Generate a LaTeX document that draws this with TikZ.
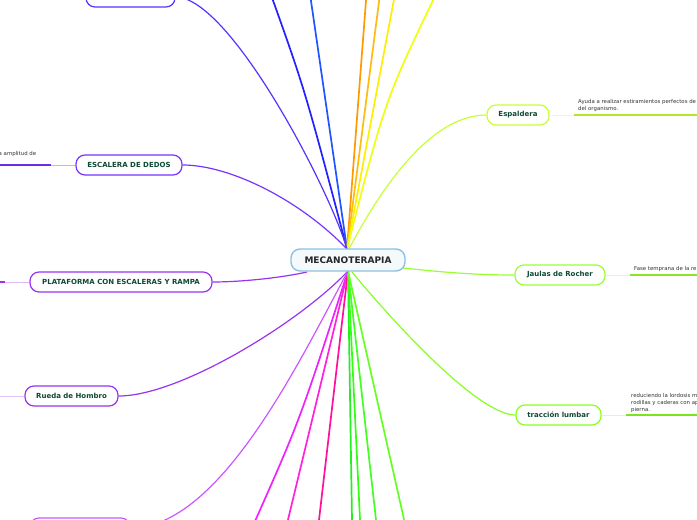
\documentclass[tikz,border=0pt]{standalone}
\usepackage{fontspec}
\setmainfont{DejaVu Sans}
\begin{document}
\begin{tikzpicture}[x=1pt,y=-1pt,
  box/.style={draw, rounded corners=9pt, fill=white, line width=1.2pt, minimum height=20pt, inner sep=0pt,
    font=\fontsize{7}{8}\selectfont\bfseries, text=txtgreen},
  conn/.style={line width=1.7pt},
  desc/.style={anchor=north west, inner sep=0pt, align=left, text=desctxt, font=\fontsize{5.4}{7}\selectfont},
]
\definecolor{txtgreen}{HTML}{0E4A33}
\definecolor{desctxt}{HTML}{333333}
\definecolor{cbord}{HTML}{8EC0E0}
\definecolor{cfill}{HTML}{F4F9FC}
\definecolor{vblue}{HTML}{5533FF}
\definecolor{blueA}{HTML}{2222FF}
\definecolor{blueB}{HTML}{2255FF}
\definecolor{orA}{HTML}{FF9900}
\definecolor{orB}{HTML}{FFBB11}
\definecolor{yeA}{HTML}{FFEE00}
\definecolor{yeB}{HTML}{EEFF11}
\definecolor{espc}{HTML}{C8FF33}
\definecolor{jauc}{HTML}{99FF33}
\definecolor{trac}{HTML}{88FF22}
\definecolor{escc}{HTML}{7733FF}
\definecolor{platc}{HTML}{9933EE}
\definecolor{ruec}{HTML}{9933EE}
\definecolor{blc}{HTML}{CC55FF}
\definecolor{magA}{HTML}{EE22FF}
\definecolor{magB}{HTML}{FF22DD}
\definecolor{pinkc}{HTML}{FF1199}
\definecolor{grA}{HTML}{22EE22}
\definecolor{grB}{HTML}{33FF11}
\definecolor{grC}{HTML}{44FF22}
\definecolor{grD}{HTML}{66FF22}
\useasboundingbox (0,0) rectangle (697,520);
\clip (0,0) rectangle (697,520);

% hubs
\coordinate (ht) at (347,249);
\coordinate (hb) at (348,271);

% free ends beyond the edges
\coordinate (eB1) at (270,-8);
\coordinate (eB2) at (310,-6);
\coordinate (eO1) at (366.5,-6);
\coordinate (eO2) at (380,-6);
\coordinate (eY1) at (395,-6);
\coordinate (eY2) at (437,-8);
\coordinate (eM1) at (252,528);
\coordinate (eM2) at (286.5,526);
\coordinate (eP) at (318.3,526);
\coordinate (eG1) at (352.1,526);
\coordinate (eG2) at (360.3,526);
\coordinate (eG3) at (376.7,526);
\coordinate (eG4) at (405.5,526);

% connectors (drawn first, behind nodes)
\draw[conn, blueA] (ht) .. controls (305,90) .. (eB1);
\draw[conn, blueB] (ht) -- (eB2);
\draw[conn, orA] (ht) -- (eO1);
\draw[conn, orB] (ht) -- (eO2);
\draw[conn, yeA] (ht) -- (eY1);
\draw[conn, yeB] (ht) .. controls (385,100) .. (eY2);
\draw[conn, magA] (hb) .. controls (300,420) .. (eM1);
\draw[conn, magB] (hb) -- (eM2);
\draw[conn, pinkc] (hb) -- (eP);
\draw[conn, grA] (hb) -- (eG1);
\draw[conn, grB] (hb) -- (eG2);
\draw[conn, grC] (hb) -- (eG3);
\draw[conn, grD] (hb) -- (eG4);

% child nodes
\node[box, draw=vblue, minimum width=89pt] (tl) at (130.5,-3) {};
\node[box, draw=escc, minimum width=106pt] (esc) at (129,165) {ESCALERA DE DEDOS};
\node[box, draw=platc, minimum width=182pt] (plat) at (121,282) {PLATAFORMA CON ESCALERAS Y RAMPA};
\node[box, draw=ruec, minimum width=93pt] (rue) at (71.5,396) {Rueda de Hombro};
\node[box, draw=blc, minimum width=100pt] (bl) at (80,528) {};
\node[box, draw=espc, minimum width=62pt] (esp) at (518,115) {Espaldera};
\node[box, draw=jauc, minimum width=90pt] (jau) at (560,275) {Jaulas de Rocher};
\node[box, draw=trac, minimum width=85pt] (tra) at (558.5,415) {tracción lumbar};

% curved connectors to children
\draw[line width=1.2pt, vblue] (ht) .. controls (330,190) and (230,-3) .. (tl.east);
\draw[line width=1.2pt, escc] (ht) .. controls (300,200) and (230,165) .. (esc.east);
\draw[line width=1.2pt, platc] (307,272) .. controls (280,278) and (240,282) .. (plat.east);
\draw[line width=1.2pt, ruec] (hb) .. controls (300,322) and (180,396) .. (rue.east);
\draw[line width=1.2pt, blc] (hb) .. controls (300,360) and (220,528) .. (bl.east);
\draw[line width=1.2pt, espc] (349,249) .. controls (380,190) and (430,115) .. (esp.west);
\draw[line width=1.2pt, jauc] (403,268) .. controls (450,273) and (480,275) .. (jau.west);
\draw[line width=1.2pt, trac] (352,272) .. controls (400,330) and (480,415) .. (tra.west);

% centre node
\node[draw=cbord, fill=cfill, rounded corners=9pt, line width=1.4pt, minimum width=114pt, minimum height=22pt,
  inner sep=0pt, font=\fontsize{9}{10}\selectfont\bfseries, text=black!85] (c) at (348,260) {MECANOTERAPIA};

% side lines of children
\coordinate (escL1) at (51,165);
\coordinate (escL0) at (-2,165);
\draw[line width=0.8pt, escc!40] (esc.west) -- (escL1);
\draw[line width=1.6pt, escc!90!black] (escL1) -- (escL0);
\node[desc, anchor=south west] (escT) at (-1.5,157) {a amplitud de};

\coordinate (platL1) at (5,282);
\coordinate (platL0) at (-2,282);
\draw[line width=0.8pt, platc!35] (plat.west) -- (platL1);
\draw[line width=1.6pt, platc] (platL1) -- (platL0);

\coordinate (rueL0) at (-2,396);
\draw[line width=0.8pt, ruec!30] (rue.west) -- (rueL0);

\coordinate (espL1) at (574,115);
\coordinate (espL2) at (700,115);
\draw[line width=0.8pt, espc!35] (esp.east) -- (espL1);
\draw[line width=1.6pt, espc!90!black] (espL1) -- (espL2);
\node[desc] (espT) at (578,99) {Ayuda a realizar estiramientos perfectos de\\del organismo.};

\coordinate (jauL1) at (630,275);
\coordinate (jauL2) at (700,275);
\draw[line width=0.8pt, jauc!35] (jau.east) -- (jauL1);
\draw[line width=1.6pt, jauc!90!black] (jauL1) -- (jauL2);
\node[desc] (jauT) at (634,266) {Fase temprana de la re};

\coordinate (traL1) at (626,415);
\coordinate (traL2) at (700,415);
\draw[line width=0.8pt, trac!35] (tra.east) -- (traL1);
\draw[line width=1.6pt, trac!90!black] (traL1) -- (traL2);
\node[desc] (traT) at (631,393) {reduciendo la lordosis m\\rodillas y caderas con ap\\pierna.};
\end{tikzpicture}
\end{document}
